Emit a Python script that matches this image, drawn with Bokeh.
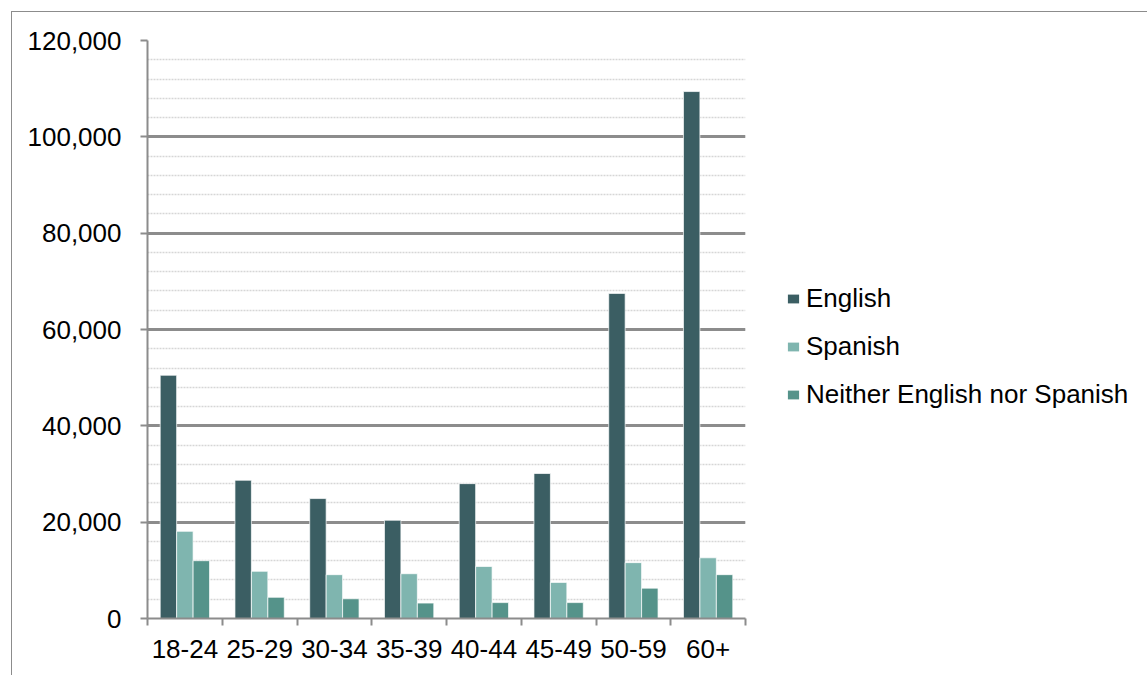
from bokeh.plotting import figure
from bokeh.models import Range1d, FixedTicker, NumeralTickFormatter, Legend, LegendItem
from bokeh.layouts import row
from bokeh.transform import dodge
from bokeh.embed import file_html
from bokeh.resources import INLINE

categories = ["18-24", "25-29", "30-34", "35-39", "40-44", "45-49", "50-59", "60+"]
english = [50500, 28700, 24900, 20400, 28000, 30100, 67500, 109400]
spanish = [18100, 9800, 9100, 9300, 10800, 7500, 11600, 12600]
neither = [12000, 4400, 4100, 3200, 3300, 3300, 6300, 9100]
series_names = ["English", "Spanish", "Neither English nor Spanish"]
colors = ["#3B5E63", "#7FB5AF", "#55938A"]
y_ticks = [0, 20000, 40000, 60000, 80000, 100000, 120000]

FONT = "Liberation Sans"
GRAY = "#8C8C8C"
FS = "26px"

n = len(categories)
centers = [i + 0.5 for i in range(n)]  # category slot centres on a 0..n axis

OFF = 12            # chart box offset inside the window
W1 = 745 - OFF + 5  # width of the plotting figure
H = 675 - OFF

p = figure(width=W1, height=H, x_range=Range1d(0, n),
           y_range=Range1d(0, 120000), output_backend="svg", toolbar_location=None,
           min_border_left=147 - OFF, min_border_right=5,
           min_border_top=40 - OFF, min_border_bottom=57)
p.outline_line_color = None
p.background_fill_color = "white"
p.border_fill_color = "white"

data = dict(pos=centers, cat=categories, english=english, spanish=spanish, neither=neither)
keys = ["english", "spanish", "neither"]
offsets = [-0.22, 0.0, 0.22]
for key, off, col in zip(keys, offsets, colors):
    p.vbar(x=dodge("pos", off), top=key, width=0.22, source=data,
           fill_color=col, line_color="white", line_width=1, line_alpha=0.7)

# y axis
yax = p.yaxis[0]
yax.ticker = FixedTicker(ticks=y_ticks, minor_ticks=list(range(0, 120001, 4000)))
yax.formatter = NumeralTickFormatter(format="0,0")
yax.axis_line_color = GRAY
yax.axis_line_width = 2
yax.major_tick_line_color = GRAY
yax.major_tick_line_width = 2
yax.major_tick_out = 7
yax.major_tick_in = 0
yax.minor_tick_line_color = None
yax.major_label_text_font = FONT
yax.major_label_text_font_size = FS
yax.major_label_text_color = "black"
yax.major_label_standoff = 19

p.ygrid.ticker = yax.ticker
p.ygrid.grid_line_color = GRAY
p.ygrid.grid_line_width = 3
p.ygrid.minor_grid_line_color = "#D6D6D6"
p.ygrid.minor_grid_line_width = 1.5
p.ygrid.minor_grid_line_dash = "2 1"
p.xgrid.grid_line_color = None

# x axis: labels at slot centres, tick marks on slot boundaries
xax = p.xaxis[0]
xax.ticker = FixedTicker(ticks=centers, minor_ticks=list(range(n + 1)))
xax.major_label_overrides = {c: lab for c, lab in zip(centers, categories)}
xax.axis_line_color = GRAY
xax.axis_line_width = 2
xax.major_tick_line_color = None
xax.minor_tick_line_color = GRAY
xax.minor_tick_line_width = 2
xax.minor_tick_out = 7
xax.minor_tick_in = 0
xax.major_label_text_font = FONT
xax.major_label_text_font_size = FS
xax.major_label_text_color = "black"
xax.major_label_standoff = 14

# legend panel to the right (its own figure, keys only)
W2 = 1147 - OFF - W1
lf = figure(width=W2, height=H, x_range=Range1d(0, 1), y_range=Range1d(0, 1),
            output_backend="svg", toolbar_location=None,
            x_axis_location=None, y_axis_location=None,
            min_border_left=0, min_border_right=0, min_border_top=0, min_border_bottom=0)
lf.outline_line_color = None
lf.grid.grid_line_color = None
lf.background_fill_color = "white"
lf.border_fill_color = "white"
keys_r = []
for key, off, col in zip(keys, offsets, colors):
    r = lf.vbar(x=dodge("pos", off), top=key, width=0.22, source=data,
                fill_color=col, line_color=None, visible=False)
    keys_r.append(r)

legend = Legend(items=[LegendItem(label=nm, renderers=[r]) for nm, r in zip(series_names, keys_r)],
                location=(786 - (OFF + W1), 208), orientation="vertical")
legend.label_text_font = FONT
legend.label_text_font_size = FS
legend.label_text_color = "black"
legend.glyph_width = 14
legend.glyph_height = 11
legend.label_standoff = 6
legend.spacing = 17
legend.padding = 0
legend.margin = 0
legend.border_line_color = None
legend.background_fill_alpha = 0
legend.inactive_fill_alpha = 0
lf.add_layout(legend, "center")

layout = row(p, lf, spacing=0)
layout.styles = {"margin-left": f"{OFF}px", "margin-top": f"{OFF}px",
                 "outline": "1.5px solid #8C8C8C"}

open("out.html", "w").write(file_html(layout, INLINE))
